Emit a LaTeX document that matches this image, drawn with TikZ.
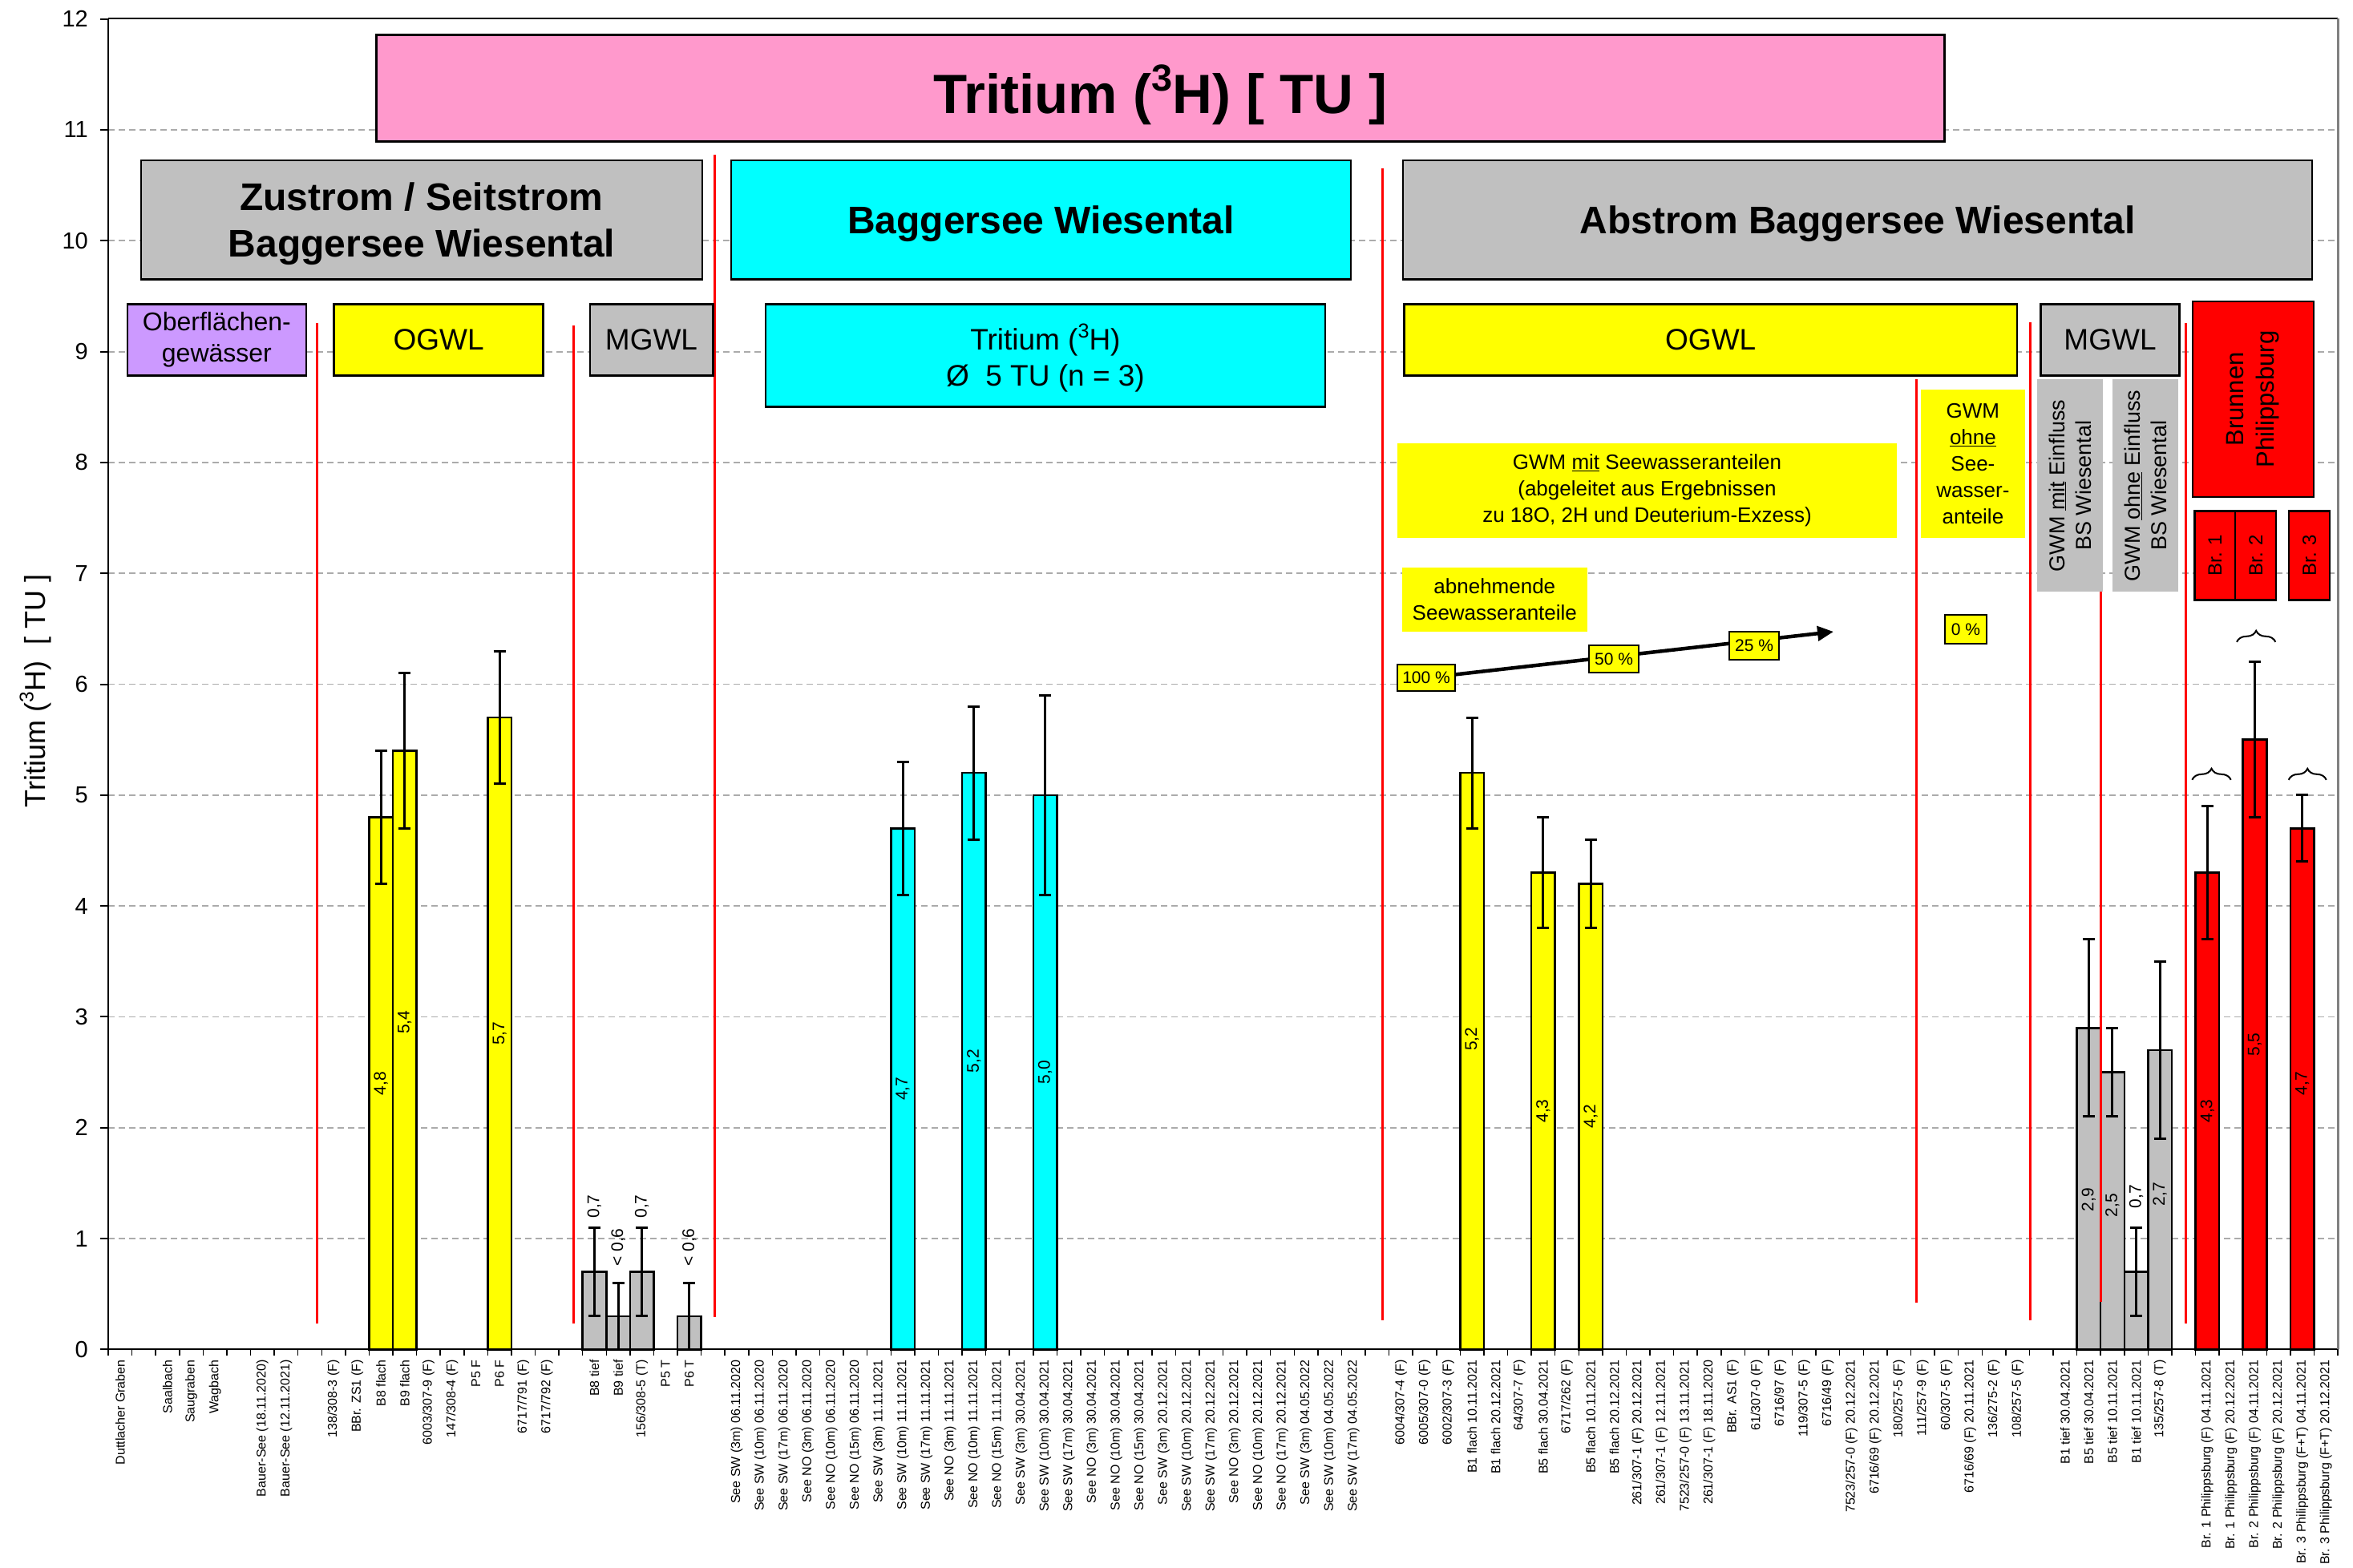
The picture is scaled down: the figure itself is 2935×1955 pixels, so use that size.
\documentclass[tikz,border=0pt]{standalone}
\usepackage{fontspec}
\setmainfont{Liberation Sans}
\usetikzlibrary{arrows.meta,decorations.pathreplacing}

\definecolor{pinkbox}{HTML}{FF99CC}
\definecolor{greybox}{HTML}{C0C0C0}
\definecolor{cyanbox}{HTML}{00FFFF}
\definecolor{yellowbox}{HTML}{FFFF00}
\definecolor{redbox}{HTML}{FF0000}
\definecolor{violetbox}{HTML}{CC99FF}
\definecolor{gridgrey}{HTML}{ABABAB}
\definecolor{framegrey}{HTML}{808080}

\newcommand\fsz[2]{\fontsize{#1}{#2}\selectfont}
\newcommand\isotope[1]{\raisebox{0.4em}{\scalebox{0.68}{#1}}}
\pgfdeclarelayer{back}
\pgfsetlayers{back,main}

\begin{document}
\begin{tikzpicture}[x=1pt,y=-1pt,
  framed/.style={draw=black,line width=2.5pt,inner sep=0pt,align=center},
  plain/.style={inner sep=0pt,align=center},
  grid line/.style={draw=gridgrey,line width=1.8pt,dash pattern=on 8pt off 5pt},
  sep line/.style={draw=redbox,line width=3pt},
  bar/.style={draw=black,line width=2.5pt},
  errbar/.style={draw=black,line width=3pt},
  vlabel/.style={rotate=90,inner sep=0pt,font=\fsz{21}{25}},
  xlabel/.style={rotate=90,anchor=east,inner sep=0pt,font=\fsz{16}{19}},
  ylabel/.style={anchor=east,inner sep=0pt,font=\fsz{29}{34}},
  pct/.style={draw=black,line width=2pt,fill=yellowbox,inner sep=0pt,font=\fsz{21}{25}},
  headtext/.style={plain,font=\fsz{48}{58}\bfseries},
  sub/.style={framed,font=\fsz{37}{45}},
  note/.style={plain,fill=yellowbox,font=\fsz{26}{33}},
]
\begin{pgfonlayer}{back}
  \fill[white] (0,0) rectangle (2935,1955);
\end{pgfonlayer}
\useasboundingbox (0,0) rectangle (2935,1955);

% ---------- data area: x = category index, y = tritium in TU ----------
\begin{scope}[shift={(135,1683.3)},x=29.585pt,y=138.3pt]
  % bars
  \foreach \k/\v/\c in {11/4.8/yellowbox,12/5.4/yellowbox,16/5.7/yellowbox,
      20/0.7/greybox,21/0.3/greybox,22/0.7/greybox,24/0.3/greybox,
      33/4.7/cyanbox,36/5.2/cyanbox,39/5.0/cyanbox,
      57/5.2/yellowbox,60/4.3/yellowbox,62/4.2/yellowbox,
      83/2.9/greybox,84/2.5/greybox,85/0.7/greybox,86/2.7/greybox,
      88/4.3/redbox,90/5.5/redbox,92/4.7/redbox}{
    \draw[bar,fill=\c] (\k,0) rectangle (\k+1,\v);
  }
\end{scope}

% red separators between the groups
\draw[sep line] (395,403)    -- (395,1651);
\draw[sep line] (715,406)    -- (715,1651);
\draw[sep line] (891,193)    -- (891,1643);
\draw[sep line] (1724,210)   -- (1724,1647);
\draw[sep line] (2390.5,473) -- (2390.5,1625);
\draw[sep line] (2532,402)   -- (2532,1647);
\draw[sep line] (2620.7,473) -- (2620.7,1624);
\draw[sep line] (2726.7,403) -- (2726.7,1651);

\begin{scope}[shift={(135,1683.3)},x=29.585pt,y=138.3pt]
  % error bars
  \foreach \k/\lo/\hi in {11/4.2/5.4,12/4.7/6.1,16/5.1/6.3,
      20/0.3/1.1,21/0/0.6,22/0.3/1.1,24/0/0.6,
      33/4.1/5.3,36/4.6/5.8,39/4.1/5.9,
      57/4.7/5.7,60/3.8/4.8,62/3.8/4.6,
      83/2.1/3.7,84/2.1/2.9,85/0.3/1.1,86/1.9/3.5,
      88/3.7/4.9,90/4.8/6.2,92/4.4/5.0}{
    \draw[errbar] (\k+.5,\lo) ++(-7.5pt,0pt) -- ++(15pt,0pt)
                  (\k+.5,\lo) -- (\k+.5,\hi) ++(-7.5pt,0pt) -- ++(15pt,0pt);
  }
  % value labels
  \foreach \k/\yy/\t in {11/2.4/{4,8},12/2.95/{5,4},16/2.85/{5,7},
      20/1.29/{0,7},21/0.92/{< 0,6},22/1.29/{0,7},24/0.92/{< 0,6},
      33/2.35/{4,7},36/2.6/{5,2},39/2.5/{5,0},
      57/2.8/{5,2},60/2.15/{4,3},62/2.1/{4,2},
      83/1.35/{2,9},84/1.3/{2,5},85/1.38/{0,7},86/1.4/{2,7},
      88/2.15/{4,3},90/2.75/{5,5},92/2.4/{4,7}}{
    \node[vlabel] at (\k+.5,\yy) {\t};
  }
  % category axis
  \draw[line width=2pt] (0,0) -- (94,0);
  \foreach \k in {0,...,94}{ \draw[line width=1.5pt] (\k,0) -- ++(0pt,-8pt); }
  \foreach \k/\t in {0/Duttlacher Graben,2/Saalbach,3/Saugraben,4/Wagbach,
      6/Bauer-See (18.11.2020),7/Bauer-See (12.11.2021),
      9/{138/308-3 (F)},10/BBr. ZS1 (F),11/B8 flach,12/B9 flach,
      13/{6003/307-9 (F)},14/{147/308-4 (F)},15/P5 F,16/P6 F,
      17/{6717/791 (F)},18/{6717/792 (F)},
      20/B8 tief,21/B9 tief,22/{156/308-5 (T)},23/P5 T,24/P6 T,
      26/See SW (3m) 06.11.2020,27/See SW (10m) 06.11.2020,28/See SW (17m) 06.11.2020,
      29/See NO (3m) 06.11.2020,30/See NO (10m) 06.11.2020,31/See NO (15m) 06.11.2020,
      32/See SW (3m) 11.11.2021,33/See SW (10m) 11.11.2021,34/See SW (17m) 11.11.2021,
      35/See NO (3m) 11.11.2021,36/See NO (10m) 11.11.2021,37/See NO (15m) 11.11.2021,
      38/See SW (3m) 30.04.2021,39/See SW (10m) 30.04.2021,40/See SW (17m) 30.04.2021,
      41/See NO (3m) 30.04.2021,42/See NO (10m) 30.04.2021,43/See NO (15m) 30.04.2021,
      44/See SW (3m) 20.12.2021,45/See SW (10m) 20.12.2021,46/See SW (17m) 20.12.2021,
      47/See NO (3m) 20.12.2021,48/See NO (10m) 20.12.2021,49/See NO (17m) 20.12.2021,
      50/See SW (3m) 04.05.2022,51/See SW (10m) 04.05.2022,52/See SW (17m) 04.05.2022,
      54/{6004/307-4 (F)},55/{6005/307-0 (F)},56/{6002/307-3 (F)},
      57/B1 flach 10.11.2021,58/B1 flach 20.12.2021,59/{64/307-7 (F)},
      60/B5 flach 30.04.2021,61/{6717/262 (F)},62/B5 flach 10.11.2021,63/B5 flach 20.12.2021,
      64/{261/307-1 (F) 20.12.2021},65/{261/307-1 (F) 12.11.2021},
      66/{7523/257-0 (F) 13.11.2021},67/{261/307-1 (F) 18.11.2020},
      68/BBr. AS1 (F),69/{61/307-0 (F)},70/{6716/97 (F)},71/{119/307-5 (F)},
      72/{6716/49 (F)},73/{7523/257-0 (F) 20.12.2021},74/{6716/69 (F) 20.12.2021},
      75/{180/257-5 (F)},76/{111/257-9 (F)},77/{60/307-5 (F)},
      78/{6716/69 (F) 20.11.2021},79/{136/275-2 (F)},80/{108/257-5 (F)},
      82/B1 tief 30.04.2021,83/B5 tief 30.04.2021,84/B5 tief 10.11.2021,
      85/B1 tief 10.11.2021,86/{135/257-8 (T)},
      88/Br. 1 Philippsburg (F) 04.11.2021,89/Br. 1 Philippsburg (F) 20.12.2021,
      90/Br. 2 Philippsburg (F) 04.11.2021,91/Br. 2 Philippsburg (F) 20.12.2021,
      92/Br. 3 Philippsburg (F+T) 04.11.2021,93/Br. 3 Philippsburg (F+T) 20.12.2021}{
    \path (\k+.5,0) ++(0pt,-13pt) node[xlabel] {\t};
  }
\end{scope}

% value axis and frame
\draw[line width=2pt] (135,23.3) -- (135,1683.3);
\draw[line width=2pt] (135,23.3) -- (2916,23.3);
\draw[framegrey,line width=3pt] (2916,23.3) -- (2916,1683.3);
\foreach \v in {0,...,12}{
  \draw[line width=2pt] (125,{1683.3-138.3*\v}) -- (135,{1683.3-138.3*\v});
  \node[ylabel] at (110,{1683.3-138.3*\v}) {\v};
}
\node[rotate=90,inner sep=0pt,font=\fsz{36}{42}] (ytitle) at (44,862)
  {Tritium (\isotope{3}H)\ \ [ TU ]};

% ---------- headings and legend boxes ----------
\node[framed,fill=pinkbox,minimum width=1956.3pt,minimum height=133.4pt] (title)
  at (1447.5,110) {};
\node[plain,font=\fsz{69}{80}\bfseries] at ([yshift=-8pt]title.center)
  {Tritium (\isotope{3}H) [ TU ]};

\node[framed,fill=greybox,minimum width=700.3pt,minimum height=148.3pt] (zustrom)
  at (525.9,274.2) {};
\node[headtext] at ([yshift=-5pt]zustrom.center) {Zustrom / Seitstrom\\Baggersee Wiesental};
\node[framed,fill=cyanbox,minimum width=773.1pt,minimum height=148.3pt] (seeBox)
  at (1298.3,274.2) {};
\node[headtext] at ([yshift=-5pt]seeBox.center) {Baggersee Wiesental};
\node[framed,fill=greybox,minimum width=1134pt,minimum height=148.3pt] (abstrom)
  at (2317,274.2) {};
\node[headtext] at ([yshift=-5pt]abstrom.center) {Abstrom Baggersee Wiesental};

\node[framed,fill=violetbox,minimum width=222.7pt,minimum height=89pt,
      font=\fsz{32}{39}] (ofw) at (270.4,423.8) {Oberflächen-\\gewässer};
\node[sub,fill=yellowbox,minimum width=261pt,minimum height=89pt] (ogwlA)
  at (547.2,423.8) {OGWL};
\node[sub,fill=greybox,minimum width=153.5pt,minimum height=89pt] (mgwlA)
  at (812.5,423.8) {MGWL};
\node[framed,fill=cyanbox,minimum width=698.3pt,minimum height=128pt] (tritBox)
  at (1303.9,443.5) {};
\node[plain,font=\fsz{37}{45}] at ([yshift=-3pt]tritBox.center)
  {Tritium (\isotope{3}H)\\Ø\ \ 5 TU (n = 3)};
\node[sub,fill=yellowbox,minimum width=764.1pt,minimum height=89pt] (ogwlB)
  at (2133.7,423.8) {OGWL};
\node[sub,fill=greybox,minimum width=172.6pt,minimum height=89pt] (mgwlB)
  at (2632,423.8) {MGWL};

\node[framed,fill=redbox,minimum width=150.7pt,minimum height=244pt] (brunnen)
  at (2810.4,498) {};
\node[rotate=90,plain,font=\fsz{31}{38}] at (brunnen.center) {Brunnen\\Philippsburg};

\node[note,minimum width=623pt,minimum height=118pt] (seeShare) at (2054.5,612)
  {GWM \underline{mit} Seewasseranteilen\\(abgeleitet aus Ergebnissen\\zu 18O, 2H und Deuterium-Exzess)};
\node[note,minimum width=129.7pt,minimum height=185pt] (noShare) at (2460.9,578.5)
  {GWM\\\underline{ohne}\\See-\\wasser-\\anteile};
\node[note,minimum width=230.5pt,minimum height=80pt] (abnehm) at (1864.3,748)
  {abnehmende\\Seewasseranteile};

\node[plain,fill=greybox,minimum width=81.7pt,minimum height=265pt] (mitEinfl)
  at (2581.9,605.8) {};
\node[rotate=90,plain,font=\fsz{27}{33}] at (mitEinfl.center)
  {GWM \underline{mit} Einfluss\\BS Wiesental};
\node[plain,fill=greybox,minimum width=81.7pt,minimum height=265pt] (ohneEinfl)
  at (2675.9,605.8) {};
\node[rotate=90,plain,font=\fsz{27}{33}] at (ohneEinfl.center)
  {GWM \underline{ohne} Einfluss\\BS Wiesental};

\foreach \n/\cx/\t in {br1/2762.8/Br. 1,br2/2813.7/Br. 2,br3/2880.5/Br. 3}{
  \node[framed,fill=redbox,minimum width=51pt,minimum height=111pt] (\n) at (\cx,692.8) {};
  \node[rotate=90,plain,font=\fsz{24}{28}] at (\n.center) {\t};
}

% share of lake water along the flow path
\node[pct,minimum width=72pt,minimum height=33pt] (p100) at (1779,845.5) {100 \%};
\node[pct,minimum width=62pt,minimum height=34pt] (p50) at (2013,822) {50 \%};
\node[pct,minimum width=62pt,minimum height=35pt] (p25) at (2188,805.5) {25 \%};
\node[pct,minimum width=52pt,minimum height=36pt] (p0) at (2452,785) {0 \%};
\coordinate (shareEnd) at (2287,788);

% braces above the wells
\draw[line width=2pt,decorate,decoration={brace,amplitude=14pt}]
  (2734.3,972.8) -- (2782.7,972.8);
\draw[line width=2pt,decorate,decoration={brace,amplitude=14pt}]
  (2790,800.8) -- (2838.3,800.8);
\draw[line width=2pt,decorate,decoration={brace,amplitude=14pt}]
  (2854.7,972.8) -- (2901.7,972.8);

\begin{pgfonlayer}{back}
  \foreach \v in {1,...,11}{
    \draw[grid line] (135,{1683.3-138.3*\v}) -- (2916,{1683.3-138.3*\v});
  }
  \draw[line width=4.5pt,-{Triangle[length=20pt,width=18pt]}] (p100.center) -- (shareEnd);
\end{pgfonlayer}
\end{tikzpicture}
\end{document}
